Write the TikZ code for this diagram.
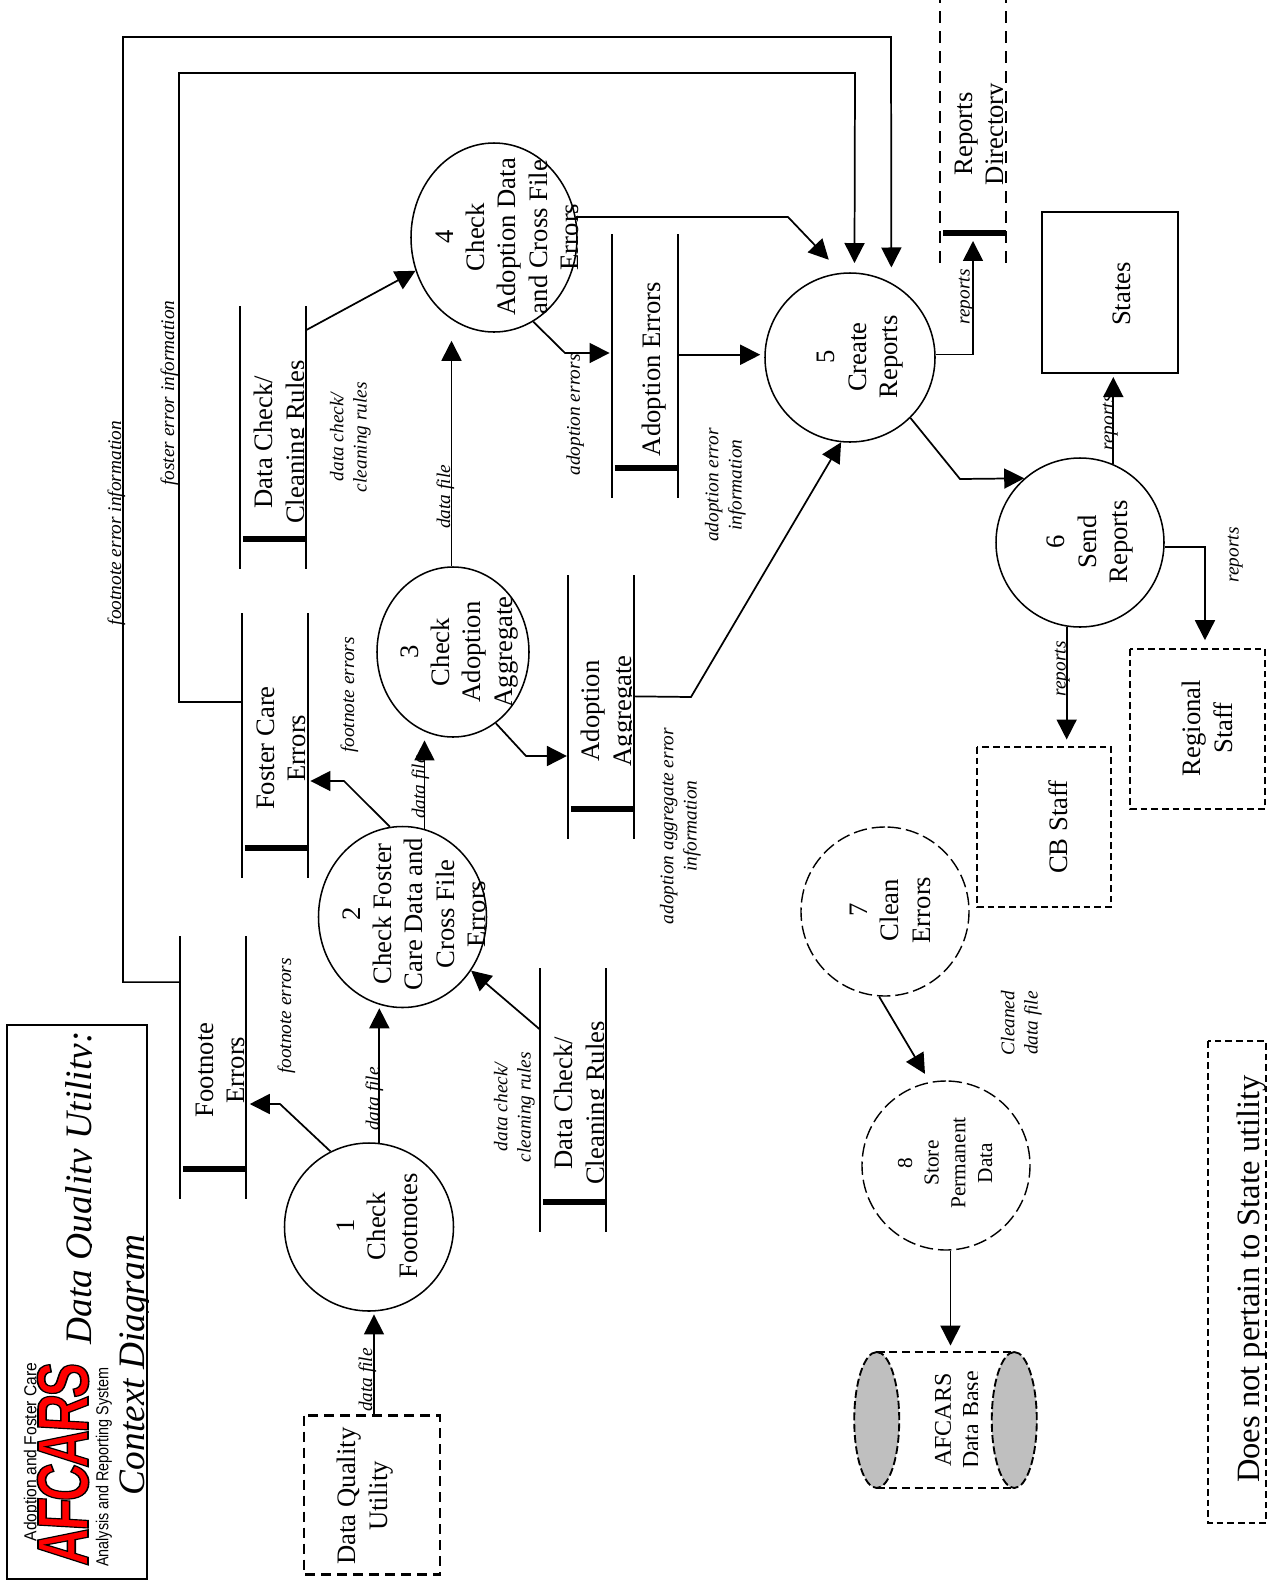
\documentclass[tikz,border=0pt]{standalone}
\usepackage{fontspec}
\setmainfont{Liberation Serif}
\newfontfamily\logosans{Liberation Sans}
\newfontfamily\logofont[FakeBold=2.2,FakeSlant=0.08,LetterSpace=-6]{Liberation Sans Bold}
\usetikzlibrary{shapes.geometric,arrows.meta,calc}
\newcommand{\rclip}[2]{\begin{scope}\clip (0,0) rectangle (#1,1585); #2\end{scope}}

\tikzset{every picture/.style={line width=1.15pt},
  proc/.style 2 args={ellipse,draw,rotate=90,minimum width=#2*0.75pt,minimum height=#1*0.75pt,inner sep=0pt},
  dproc/.style 2 args={proc={#1}{#2},dash pattern=on 10pt off 3.75pt,line width=1.05pt},
  box/.style 2 args={rectangle,draw,rotate=90,minimum width=#2*0.75pt,minimum height=#1*0.75pt,inner sep=0pt},
  dashbox/.style 2 args={box={#1}{#2},dash pattern=on 5pt off 3pt,line width=1.2pt},
  store/.style={rectangle,rotate=90,minimum width=#1*0.75pt,minimum height=48pt,inner sep=0pt},
  store/.default=261,
  storeline/.style={line width=1.3pt},
  storedash/.style={line width=1.7pt,dash pattern=on 9pt off 6pt},
  storebar/.style={line width=4.5pt},
  dbend/.style={ellipse,rotate=90,draw,fill={rgb,255:red,191;green,191;blue,191},dash pattern=on 6pt off 2.5pt,line width=1.4pt,minimum width=136*0.75pt,minimum height=45*0.75pt,inner sep=0pt},
  lbl/.style={xshift=1.7pt,rotate=90,inner sep=0pt,align=center,font=\fontsize{20}{23.5}\selectfont},
  lblsmall/.style={rotate=90,inner sep=0pt,align=center,font=\fontsize{16}{20}\selectfont},
  flowlbl/.style={xshift=1.7pt,rotate=90,inner sep=0pt,align=center,font=\itshape\fontsize{14.5}{17.5}\selectfont},
  titlelbl/.style={xshift=2.5pt,rotate=90,inner sep=0pt,font=\itshape\fontsize{28}{32}\selectfont},
  flow/.style={line width=1.3pt,-{Triangle[length=15pt,width=15pt]}},
}

\begin{document}
\begin{tikzpicture}[x=0.75pt,y=0.75pt,yscale=-1,xscale=1]
\useasboundingbox (0,0) rectangle (1272,1585);

%Title box
\node[box={140}{554},line width=1.8pt] (title) at (77,1302) {};
\node[rotate=90,inner sep=0pt,font=\logosans\fontsize{13}{15}\selectfont,xscale=.9] (logotop) at (32,1452) {Adoption and Foster Care};
\node[rotate=90,inner sep=0pt,font=\logofont\fontsize{54.5}{58}\selectfont,text=red,xscale=.72] (logo) at (63,1465) {\special{pdf:code 0 0 0 RG}AFCARS};
\node[rotate=90,inner sep=0pt,font=\logosans\fontsize{13}{15}\selectfont,xscale=.83] (logobot) at (104,1467) {Analysis and Reporting System};
\rclip{91}{\node[titlelbl] (titleA) at (79,1188) {Data Quality Utility:};}
\rclip{148}{\node[titlelbl] (titleB) at (133,1365) {Context Diagram};}

%External boxes
\node[box={136}{159},dash pattern=on 7.5pt off 4.5pt,line width=2pt] (dqu) at (372,1495) {};
\node[box={136}{161},line width=2pt] (states) at (1110,292.5) {};
\node[dashbox={134}{160}] (cb) at (1044,827) {};
\node[dashbox={135}{160}] (reg) at (1197.5,729) {};
\node[dashbox={58}{482}] (note) at (1237,1282) {};

%Processes
\node[proc={169}{168}] (p1) at (369,1227) {};
\node[proc={168}{181}] (p2) at (402.5,917) {};
\node[proc={152}{170}] (p3) at (453,652) {};
\node[proc={166}{189}] (p4) at (494,237.5) {};
\node[proc={170}{169}] (p5) at (850,357.5) {};
\node[proc={168}{169}] (p6) at (1080,542.5) {};
\node[dproc={168}{169}] (p7) at (885,911.5) {};
\node[dproc={168}{169}] (p8) at (946,1165.5) {};

%Data stores
\node[store] (fn) at (213,1067.5) {};
\node[store=263] (fc) at (275,745.5) {};
\node[store=262] (dcb) at (573,1100) {};
\node[store] (dct) at (273,437.5) {};
\node[store=262] (ae) at (645,366) {};
\node[store=262] (aa) at (601,707) {};
\node[store=262] (rd) at (973,131) {};
\foreach \s in {fn,fc,dcb,dct,ae,aa}{
  \draw[storeline] (\s.north west) -- (\s.north east);
  \draw[storeline] (\s.south west) -- (\s.south east);
}
\draw[storedash] (rd.north west) -- (rd.north east);
\draw[storedash] (rd.south west) -- (rd.south east);
\foreach \s in {fn,fc,dcb,dct,ae,aa,rd}{
  \draw[storebar,shorten <=2pt] ($(\s.north west)!.113!(\s.north east)$) -- ($(\s.south west)!.113!(\s.south east)$);
}

%Data base
\node[rectangle,rotate=90,minimum width=134*0.75pt,minimum height=136*0.75pt,inner sep=0pt] (db) at (945.5,1420) {};
\draw[dash pattern=on 6pt off 3.5pt] (db.north east) -- (db.south east);
\draw[dash pattern=on 6pt off 3.5pt] (db.north west) -- (db.south west);
\node[dbend] (dbl) at (db.north) {};
\node[dbend] (dbr) at (db.south) {};

%Flows
\draw[flow,shorten >=2pt] ([xshift=1.5pt]dqu.east) -- ([xshift=1.5pt]dqu.east |- p1.west);
\draw[flow] (p1.-7) -- (p1.-7 |- p2.west);
\draw[flow,shorten >=3pt] (p1.27) -- (280,1104) -- (280,1104 -| fn.south);
\draw[flow,shorten >=2pt] (p2.8) -- (344,781) -- (344,781 -| fc.south);
\draw[flow,shorten >=2pt] (p2.-14.5) -- (p2.-14.5 |- p3.west);
\draw[flow,shorten >=1pt] (p3.-149.4) -- (526,756) -- (526,756 -| aa.north);
\draw[flow,shorten >=6pt] (p3.1.3) -- (p3.1.3 |- p4.west);
\draw[flow] (dct.-17.5) -- (p4.113);
\draw[flow,shorten >=2pt] (p4.-155) -- (565,353) -- (565,353 -| ae.north);
\draw[flow,shorten >=13.4pt] (p4.-76.5) -- (788,217) -- (p5.6);
\draw[flow,shorten >=7pt] (fc.37.2) -| (179,73) -- (855,73) -- (p5.-3.4);
\draw[flow,shorten >=11.5pt] (fn.21.9) -| (123,37) -- (891,37) -- (p5.-29);
\draw[flow,shorten >=3pt] (ae.-71) -- (ae.-71 -| p5.north);
\draw[flow] (aa.-72.6) -- (691,697) -- (p5.174);
\draw[flow,shorten >=6pt] (p5.-88.5) -| ($(rd.west)!.113!(rd.east)$);
\draw[flow] (p5.-135) -- (960,479) -- (p6.41);
\draw[flow,shorten >=2pt] (p6.-23) -- (p6.-23 |- states.west);
\draw[flow,shorten >=6pt] (p6.-93) -| ([xshift=5.6pt]reg.east);
\draw[flow,shorten >=5pt] (p6.171) -- (p6.171 |- cb.east);
\draw[flow] (dcb.25.5) -- (p2.-128.4);
\draw[flow,shorten >=7pt] (p7.176.6) -- (p8.11.7);
\draw[flow,shorten >=5pt] (p8.183.4) -- (p8.183.4 |- db.east);

% Text Node
\node[lbl] (dqut) at (363,1496) {Data Quality\\Utility};
\node[lbl] (p1t) at (375,1226) {1\\Check\\Footnotes};
\node[lbl] (p2t) at (412,914) {2\\Check Foster\\Care Data and\\Cross File\\Errors};
\node[lbl] (p3t) at (457,652) {3\\Check\\Adoption\\Aggregate};
\node[lbl] (p4t) at (505,237) {4\\Check\\Adoption Data\\and Cross File\\Errors};
\node[lbl] (p5t) at (858,357) {5\\Create\\Reports};
\node[lbl] (p6t) at (1088,542) {6\\Send\\Reports};
\node[lbl] (p7t) at (888,910) {7\\Clean\\Errors};
\node[lblsmall] (p8t) at (945,1163) {8\\Store\\Permanent\\Data};
\rclip{245}{\node[lbl] (fnt) at (218,1070) {Footnote\\Errors};}
\rclip{307}{\node[lbl] (fct) at (279,748) {Foster Care\\Errors};}
\rclip{603}{\node[lbl] (dcbt) at (580,1103) {Data Check/\\Cleaning Rules};}
\rclip{303}{\node[lbl] (dctt) at (280,442) {Data Check/\\Cleaning Rules};}
\node[lbl] (aet) at (652,369) {Adoption Errors};
\rclip{631}{\node[lbl] (aat) at (607,711) {Adoption\\Aggregate};}
\rclip{1002}{\node[lbl] (rdt) at (980,134) {Reports\\Directory};}
\node[lbl] (statest) at (1120,294) {States};
\node[lbl] (cbt) at (1056,827) {CB Staff};
\node[lbl] (regt) at (1205,728) {Regional\\Staff};
\rclip{977}{\node[rotate=90,inner sep=0pt,align=center,font=\fontsize{18}{21}\selectfont] (dbt) at (957,1420) {AFCARS\\Data Base};}
\node[rotate=90,inner sep=0pt,font=\fontsize{24.4}{28}\selectfont] (notet) at (1252,1279) {Does not pertain to State utility};

% Flow labels
\node[flowlbl] (l1) at (365,1380) {data file};
\node[flowlbl] (l2) at (372,1099) {data file};
\node[flowlbl] (l3) at (284,1016) {footnote errors};
\node[flowlbl] (l4) at (512,1107) {data check/\\cleaning rules};
\node[flowlbl] (l5) at (347,695) {footnote errors};
\node[flowlbl] (l6) at (418,787) {data file};
\node[flowlbl] (l7) at (443,497) {data file};
\node[flowlbl] (l8) at (348,437) {data check/\\cleaning rules};
\node[flowlbl] (l9) at (573,415) {adoption errors};
\node[flowlbl] (l10) at (723,485) {adoption error\\information};
\node[flowlbl] (l11) at (678,826) {adoption aggregate error\\information};
\node[flowlbl] (l12) at (167,393) {foster error information};
\node[flowlbl] (l13) at (114,523) {footnote error information};
\node[flowlbl] (l14) at (964,297) {reports};
\node[flowlbl] (l15) at (1108,423) {reports};
\node[flowlbl] (l16) at (1233,555) {reports};
\node[flowlbl] (l17) at (1060,669) {reports};
\node[flowlbl] (l18) at (1019,1023) {Cleaned\\data file};

\end{tikzpicture}
\end{document}
